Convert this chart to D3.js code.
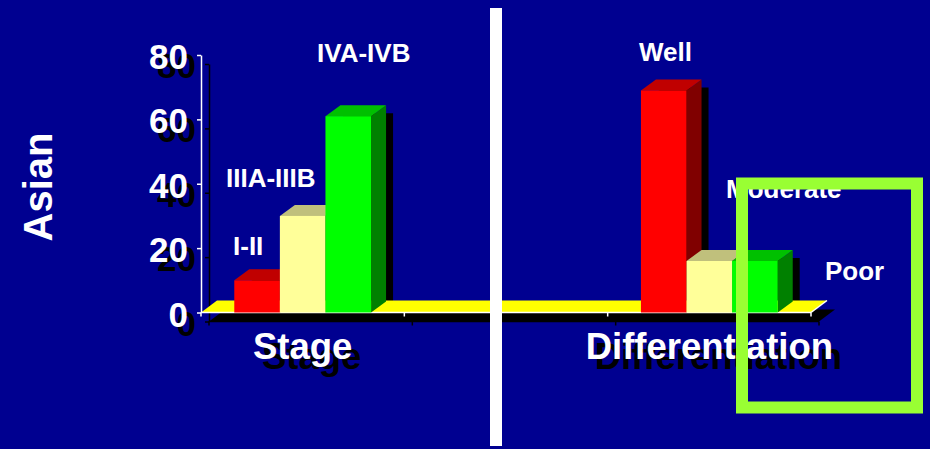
<!DOCTYPE html>
<html>
<head>
<meta charset="utf-8">
<script src="https://cdn.jsdelivr.net/npm/d3@7/dist/d3.min.js"></script>
<style>
  html, body { margin: 0; padding: 0; background: #000090; }
  svg { display: block; }
  text { font-family: "Liberation Sans", Arial, sans-serif; font-weight: bold; }
</style>
</head>
<body>
<svg id="chart" width="930" height="449"></svg>
<script>
// ---- data ----
const categories = ["Stage", "", "Differentiation"];
const stageLabels = ["I-II", "IIIA-IIIB", "IVA-IVB"];
const stageValues = [10, 30, 61];
const diffLabels = ["Well", "Moderate", "Poor"];
const diffValues = [69, 16, 16];
const yTicks = [0, 20, 40, 60, 80];
const yTitle = "Asian";

// ---- layout & style ----
const W = 930, H = 449;
const BG = "#000090";
const faceColors = [
  { front: "#FF0000", top: "#C00000", side: "#800000" },
  { front: "#FFFF99", top: "#C0C07C", side: "#80804C" },
  { front: "#00FF00", top: "#00C000", side: "#008000" }
];
const DX = 15, DY = -11;          // bar depth
const FDX = 16, FDY = -12;        // floor depth
const SH = [8, 9];                // drop-shadow offset
// label anchors (left x, baseline y) for the series names
const labelAnchors = {
  "Stage": [[233, 255], [226, 187], [317, 62]],
  "Differentiation": [[639, 61], [726, 198], [825, 280]]
};

const groups = [
  { cat: "Stage", labels: stageLabels, values: stageValues },
  { cat: "Differentiation", labels: diffLabels, values: diffValues }
];

const svg = d3.select("#chart");
svg.append("rect").attr("width", W).attr("height", H).attr("fill", BG);

const y = d3.scaleLinear().domain([0, 80]).range([312.5, 55]);
const x0 = d3.scaleBand().domain(categories).range([201, 811]);
const x1 = d3.scaleBand().domain(d3.range(3)).range([0, x0.bandwidth()])
  .paddingInner(0).paddingOuter(0.73);
const bw = x1.bandwidth();
const y0 = y(0);
const xStart = x0.range()[0], xEnd = x0.range()[1];

// bar geometry helpers
function barX(g, i) { return x0(g.cat) + x1(i); }
function silhouette(x, yv) {
  return [[x, y0], [x, yv], [x + DX, yv + DY], [x + bw + DX, yv + DY],
          [x + bw + DX, y0 + DY], [x + bw, y0]];
}
const poly = pts => pts.map(p => p.join(",")).join(" ");

// ---- shadow layer ----
const shadow = svg.append("g").attr("transform", `translate(${SH[0]},${SH[1]})`);
// bar shadows
groups.forEach(g => {
  g.values.forEach((v, i) => {
    shadow.append("polygon")
      .attr("points", poly(silhouette(barX(g, i), y(v))))
      .attr("fill", "#000").attr("transform", "translate(-1,-1)");
  });
});
// floor shadow
shadow.append("polygon")
  .attr("points", poly([[xStart, y0], [xEnd, y0], [xEnd + FDX, y0 + FDY], [xStart + FDX, y0 + FDY]]))
  .attr("fill", "#000");

// axes (drawn twice: black shadow, then white)
function drawAxes(layer, color) {
  const ya = layer.append("g").attr("transform", `translate(${xStart},0)`)
    .call(d3.axisLeft(y).tickValues(yTicks).tickSize(4).tickSizeOuter(0).tickFormat(""));
  ya.selectAll("path, line").attr("stroke", color).attr("stroke-width", 1.5);
  const bounds = categories.map(c => x0(c)).concat([xEnd]);
  layer.append("line").attr("x1", xStart).attr("x2", xEnd).attr("y1", y0).attr("y2", y0)
    .attr("stroke", color).attr("stroke-width", 1.5);
  layer.selectAll(null).data(bounds).enter().append("line")
    .attr("x1", d => d).attr("x2", d => d).attr("y1", y0).attr("y2", y0 + 4)
    .attr("stroke", color).attr("stroke-width", 1.5);
}
drawAxes(shadow, "#000");

// tick label and category label shadows
function tickLabels(layer, color) {
  layer.selectAll(null).data(yTicks).enter().append("text")
    .attr("x", 188).attr("y", d => y(d) + 14)
    .attr("text-anchor", "end").attr("font-size", 35).attr("fill", color)
    .text(d => d);
}
function catLabels(layer, color) {
  layer.selectAll(null).data(categories.filter(c => c)).enter().append("text")
    .attr("x", d => x0(d) + x0.bandwidth() / 2).attr("y", 359)
    .attr("text-anchor", "middle").attr("font-size", 36.5).attr("fill", color)
    .text(d => d);
}
tickLabels(shadow, "#000");
catLabels(shadow.append("g").attr("transform", "translate(1,1)"), "#000");

// ---- floor ----
svg.append("polygon")
  .attr("points", poly([[xStart, y0], [xEnd, y0], [xEnd + FDX, y0 + FDY], [xStart + FDX, y0 + FDY]]))
  .attr("fill", "#FFFF00");
svg.append("line")
  .attr("x1", xEnd).attr("y1", y0).attr("x2", xEnd + FDX).attr("y2", y0 + FDY)
  .attr("stroke", "#fff").attr("stroke-width", 1.5);

drawAxes(svg.append("g"), "#fff");

// ---- bars ----
groups.forEach(g => {
  g.values.forEach((v, i) => {
    const x = barX(g, i), yv = y(v), c = faceColors[i];
    svg.append("polygon")
      .attr("points", poly([[x + bw, yv], [x + bw + DX, yv + DY], [x + bw + DX, y0 + DY], [x + bw, y0]]))
      .attr("fill", c.side);
    svg.append("polygon")
      .attr("points", poly([[x, yv], [x + DX, yv + DY], [x + bw + DX, yv + DY], [x + bw, yv]]))
      .attr("fill", c.top);
    svg.append("rect")
      .attr("x", x).attr("y", yv).attr("width", bw).attr("height", y0 - yv)
      .attr("fill", c.front);
  });
});

// ---- texts ----
tickLabels(svg.append("g"), "#fff");
catLabels(svg.append("g"), "#fff");

groups.forEach(g => {
  g.labels.forEach((lab, i) => {
    const [lx, ly] = labelAnchors[g.cat][i];
    svg.append("text").attr("x", lx).attr("y", ly)
      .attr("font-size", 26).attr("fill", "#fff").text(lab);
  });
});

svg.append("text")
  .attr("transform", "translate(52,187) rotate(-90)")
  .attr("text-anchor", "middle").attr("font-size", 40).attr("fill", "#fff")
  .text(yTitle);

// ---- divider between the two panels ----
svg.append("rect").attr("x", 490).attr("y", 8).attr("width", 12).attr("height", 438)
  .attr("fill", "#fff");

// ---- highlight frame ----
svg.append("rect").attr("x", 742).attr("y", 183.5).attr("width", 175).attr("height", 224)
  .attr("fill", "none").attr("stroke", "#99FF33").attr("stroke-width", 12);
</script>
</body>
</html>
